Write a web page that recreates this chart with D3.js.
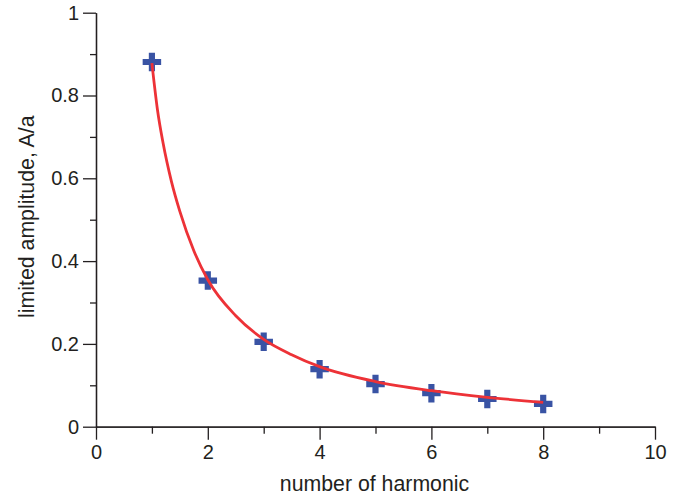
<!DOCTYPE html>
<html>
<head>
<meta charset="utf-8">
<script src="https://cdn.jsdelivr.net/npm/d3@7"></script>
<style>
  body { margin: 0; background: #fff; }
  svg text { font-family: "Liberation Sans", Arial, sans-serif; fill: #231f20; }
  .axis path, .axis line { stroke: #231f20; stroke-width: 1.3; }
</style>
</head>
<body>
<script>
// measured harmonics (markers)
var harmonic = [1, 2, 3, 4, 5, 6, 7, 8];
var amplitude = [0.881, 0.353, 0.205, 0.139, 0.103, 0.081, 0.067, 0.055];

// fitted curve
var curveN = [1, 1.1, 1.2, 1.35, 1.5, 1.75, 2, 2.5, 3, 3.5, 4, 5, 6, 7, 8];
var curveA = [0.878, 0.765, 0.685, 0.592, 0.52, 0.425, 0.355, 0.268, 0.211, 0.174, 0.145, 0.109, 0.087, 0.071, 0.059];

var xMajor = [0, 2, 4, 6, 8, 10];
var xMinor = [1, 3, 5, 7, 9];
var yMajor = [0, 0.2, 0.4, 0.6, 0.8, 1];
var yMinor = [0.1, 0.3, 0.5, 0.7, 0.9];

var width = 681;
var height = 498;

var svg = d3.select("body")
    .append("svg")
    .attr("width", width)
    .attr("height", height);

var xScale = d3.scaleLinear().domain([0, 10]).range([96, 655]);
var yScale = d3.scaleLinear().domain([0, 1]).range([426.7, 12.7]);

// minor ticks first, no labels
svg.append("g")
    .attr("class", "axis")
    .attr("transform", "translate(0," + yScale(0) + ")")
    .call(d3.axisBottom(xScale).tickValues(xMinor).tickSize(7).tickSizeOuter(0).tickFormat(""));

svg.append("g")
    .attr("class", "axis")
    .attr("transform", "translate(" + xScale(0) + ",0)")
    .call(d3.axisLeft(yScale).tickValues(yMinor).tickSize(6).tickSizeOuter(0).tickFormat(""));

// major ticks with labels
svg.append("g")
    .attr("class", "axis")
    .attr("transform", "translate(0," + yScale(0) + ")")
    .call(d3.axisBottom(xScale).tickValues(xMajor).tickSize(13).tickSizeOuter(0).tickPadding(5).tickFormat(d3.format("d")));

svg.append("g")
    .attr("class", "axis")
    .attr("transform", "translate(" + xScale(0) + ",0)")
    .call(d3.axisLeft(yScale).tickValues(yMajor).tickSize(13).tickSizeOuter(0).tickPadding(4).tickFormat(function(d) { return d3.format("")(d); }));

svg.selectAll(".axis text")
    .attr("font-family", "Liberation Sans, Arial, sans-serif")
    .attr("font-size", "20px")
    .attr("fill", "#231f20");

// axis titles
svg.append("text")
    .attr("text-anchor", "middle")
    .attr("x", (xScale(0) + xScale(10)) / 2 - 1)
    .attr("y", 490.5)
    .attr("font-size", "21.3px")
    .text("number of harmonic");

svg.append("text")
    .attr("text-anchor", "middle")
    .attr("transform", "translate(34," + ((yScale(0) + yScale(1)) / 2 - 3) + ") rotate(-90)")
    .attr("font-size", "21.3px")
    .text("limited amplitude, A/a");

// markers
var plus = d3.symbol().type(d3.symbolCross).size(190);
svg.append("g")
    .selectAll("path")
    .data(harmonic)
    .enter()
    .append("path")
    .attr("d", plus)
    .attr("transform", function(d, i) { return "translate(" + xScale(d) + "," + yScale(amplitude[i]) + ")"; })
    .style("fill", "#3953a4");

// fitted curve
var line = d3.line()
    .x(function(d, i) { return xScale(d); })
    .y(function(d, i) { return yScale(curveA[i]); })
    .curve(d3.curveMonotoneX);

svg.append("path")
    .datum(curveN)
    .attr("d", line)
    .style("fill", "none")
    .style("stroke", "#ed3237")
    .style("stroke-width", 2.8);
</script>
</body>
</html>
